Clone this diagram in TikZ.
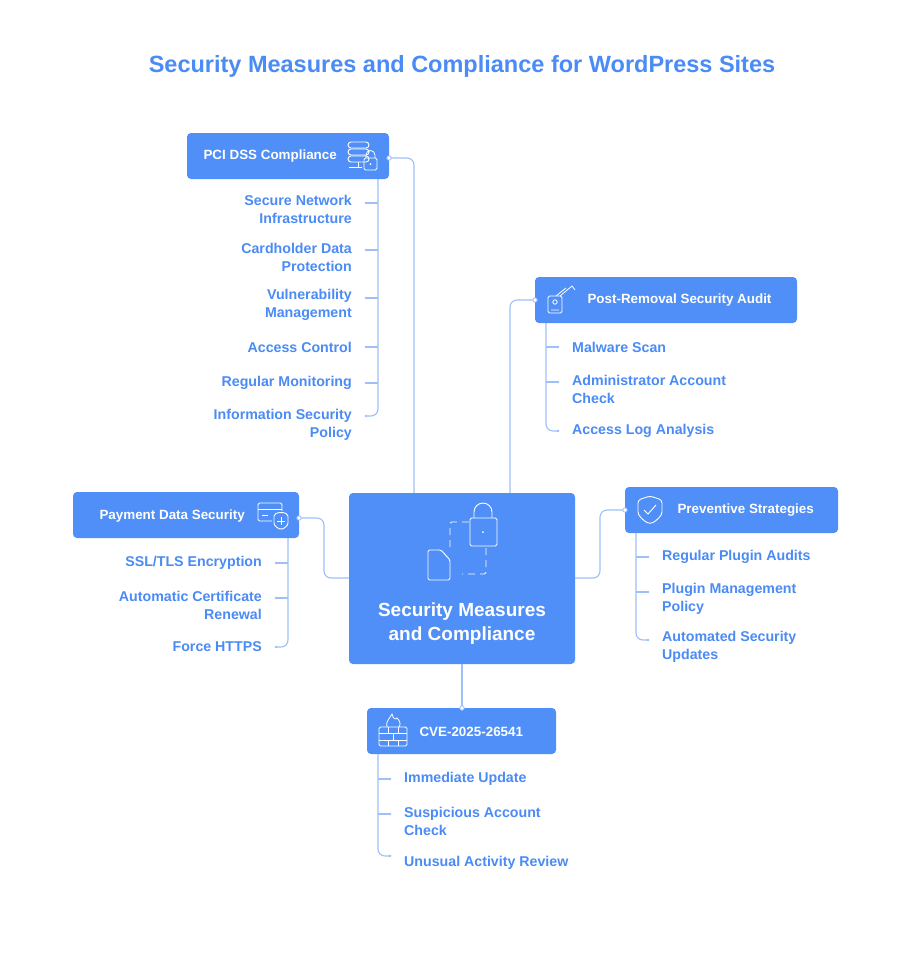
\documentclass[tikz,border=0pt]{standalone}
\usepackage{fontspec}
\setmainfont{Liberation Sans}
\usetikzlibrary{calc}
\definecolor{bx}{HTML}{4F8FF7}
\definecolor{tx}{HTML}{4A8BF5}
\definecolor{ln}{HTML}{9EC0F7}
\begin{document}
\begin{tikzpicture}[x=1pt,y=-1pt,
 box/.style={fill=bx,rounded corners=4,inner sep=0},
 btxt/.style={text=white,font=\bfseries\fontsize{13.4}{16}\selectfont},
 itr/.style={anchor=east,align=right,text=tx,font=\bfseries\fontsize{14.2}{18}\selectfont,inner sep=0},
 itl/.style={anchor=west,align=left,text=tx,font=\bfseries\fontsize{14.2}{18}\selectfont,inner sep=0},
 conn/.style={draw=ln,line width=1.1pt,rounded corners=7},
 tick/.style={draw=ln,line width=1.1pt},
 ic/.style={draw=white,line width=0.9pt,rounded corners=1.5}]
\useasboundingbox (0,0) rectangle (924,954);
\fill[white] (0,0) rectangle (924,954);
\node[text=tx,font=\bfseries\fontsize{23.5}{28}\selectfont] (title) at (462,66) {Security Measures and Compliance for WordPress Sites};

% center
\path[box] (349,493) rectangle (575,664);
\coordinate (C) at (462,578);
\node[text=white,align=center,font=\bfseries\fontsize{19}{24}\selectfont] (ct) at (462,624) {Security Measures\\and Compliance};
\draw[ic,dash pattern=on 7pt off 5pt] (450,547) -- (450,522) -- (470,522);
\draw[ic,dash pattern=on 7pt off 5pt] (486,548) -- (486,574) -- (462,574);
\draw[ic] (470,518) rectangle (497,546);
\draw[white,line width=0.9pt] (474,518) -- (474,512) arc (180:360:9) -- (492,518);
\fill[white] (483,532) circle (1);
\draw[ic] (428,550) -- (441,550) -- (450,560) -- (450,580) -- (428,580) -- cycle;

% PCI
\path[box] (187,133) rectangle (389,179);
\node[btxt,anchor=west] (pci) at (200,156) {PCI DSS Compliance};
\foreach \yy in {142,149,156}{\draw[ic,rounded corners=3] (348,\yy) rectangle (369,\yy+6);}
\draw[white,line width=0.8pt] (358,162) -- (358,167) (349,167)--(362,167);
\draw[ic] (364,158) rectangle (377,170); \draw[white,line width=0.8pt] (366,158) -- (366,155) arc (180:360:4.5) -- (375,158);
\fill[white] (370.5,164) circle (1);
\draw[conn] (389,158) -- (414,158) -- (414,493);
\fill[white] (389,158) circle (2.2); \draw[ln,line width=0.8pt] (389,158) circle (2.2);
\node[itr] (p1) at (352,209) {Secure Network\\Infrastructure};
\node[itr] (p2) at (352,257) {Cardholder Data\\Protection};
\node[itr] (p3) at (352,305) {Vulnerability\\Management};
\node[itr] (p4) at (352,347) {Access Control};
\node[itr] (p5) at (352,383) {Regular Monitoring};
\node[itr] (p6) at (352,425) {Information Security\\Policy};
\draw[conn] (378,179) -- (378,416) -- (366,416);
\foreach \yy in {203,250,298,347,383}{\draw[tick] (366,\yy) -- (378,\yy); \fill[ln] (366,\yy) circle (1.4);}
\fill[ln] (366,416) circle (1.4);

% Post-removal
\path[box] (535,277) rectangle (797,323);
\node[btxt,anchor=west] (pr) at (584,300) {Post-Removal Security Audit};
\draw[ic] (548,296) rectangle (562,313);
\draw[white,line width=0.8pt] (555,302) circle (2.2) (551,310) -- (559,310);
\draw[white,line width=0.8pt] (556,296) -- (566,288) (560,296) -- (572,286) -- (575,290);
\draw[conn] (510,493) -- (510,300) -- (535,300);
\fill[white] (535,300) circle (2.2); \draw[ln,line width=0.8pt] (535,300) circle (2.2);
\node[itl] (r1) at (572,347) {Malware Scan};
\node[itl] (r2) at (572,389) {Administrator Account\\Check};
\node[itl] (r3) at (572,431) {Access Log Analysis};
\draw[conn] (546,323) -- (546,431) -- (558,431);
\foreach \yy in {347,382}{\draw[tick] (546,\yy) -- (558,\yy); \fill[ln] (558,\yy) circle (1.4);}
\fill[ln] (558,431) circle (1.4);

% Payment
\path[box] (73,492) rectangle (299,538);
\node[btxt,anchor=west] (pay) at (96,516) {Payment Data Security};
\draw[ic] (258,503) rectangle (282,521);
\draw[white,line width=0.8pt] (258,509) -- (282,509) (262,515) -- (268,515);
\fill[bx] (272,511) rectangle (290,533);
\draw[ic,rounded corners=2] (274,514) -- (281,512) -- (288,514) -- (288,521) .. controls (288,526) and (284,528) .. (281,530) .. controls (278,528) and (274,526) .. (274,521) -- cycle;
\draw[white,line width=0.8pt] (281,517) -- (281,525) (277,521) -- (285,521);
\draw[conn] (299,518) -- (324,518) -- (324,578) -- (349,578);
\fill[white] (299,518) circle (2.2); \draw[ln,line width=0.8pt] (299,518) circle (2.2);
\node[itr] (y1) at (262,563) {SSL/TLS Encryption};
\node[itr] (y2) at (262,605) {Automatic Certificate\\Renewal};
\node[itr] (y3) at (262,647) {Force HTTPS};
\draw[conn] (288,538) -- (288,647) -- (276,647);
\foreach \yy in {563,598}{\draw[tick] (276,\yy) -- (288,\yy); \fill[ln] (276,\yy) circle (1.4);}
\fill[ln] (276,647) circle (1.4);

% Preventive
\path[box] (625,487) rectangle (838,533);
\node[btxt,anchor=west] (pv) at (674,510) {Preventive Strategies};
\draw[ic,rounded corners=3] (638,500) -- (650,496) -- (662,500) -- (662,509) .. controls (662,516) and (656,521) .. (650,524) .. controls (644,521) and (638,516) .. (638,509) -- cycle;
\draw[white,line width=0.9pt] (644,510) -- (648,514) -- (656,505);
\draw[conn] (575,578) -- (600,578) -- (600,510) -- (625,510);
\fill[white] (625,510) circle (2.2); \draw[ln,line width=0.8pt] (625,510) circle (2.2);
\node[itl] (v1) at (662,557) {Regular Plugin Audits};
\node[itl] (v2) at (662,599) {Plugin Management\\Policy};
\node[itl] (v3) at (662,647) {Automated Security\\Updates};
\draw[conn] (636,533) -- (636,640) -- (648,640);
\foreach \yy in {557,592}{\draw[tick] (636,\yy) -- (648,\yy); \fill[ln] (648,\yy) circle (1.4);}
\fill[ln] (648,640) circle (1.4);

% CVE
\path[box] (367,708) rectangle (556,754);
\node[btxt,anchor=west] (cve) at (416,732) {CVE-2025-26541};
\draw[ic] (379,727) rectangle (407,746);
\draw[white,line width=0.7pt] (379,733) -- (407,733) (379,740) -- (407,740) (388,727) -- (388,733) (398,727) -- (398,733) (393,733) -- (393,740) (388,740) -- (388,746) (398,740) -- (398,746);
\draw[white,line width=0.8pt] (387,727) .. controls (385,722) and (390,718) .. (392,714) .. controls (393,719) and (396,720) .. (397,718) .. controls (400,721) and (401,724) .. (399,727);
\draw[conn] (462,664) -- (462,708);
\fill[white] (462,708) circle (2.2); \draw[ln,line width=0.8pt] (462,708) circle (2.2);
\node[itl] (c1) at (404,779) {Immediate Update};
\node[itl] (c2) at (404,821) {Suspicious Account\\Check};
\node[itl] (c3) at (404,863) {Unusual Activity Review};
\draw[conn] (378,754) -- (378,856) -- (390,856);
\foreach \yy in {779,814}{\draw[tick] (378,\yy) -- (390,\yy); \fill[ln] (390,\yy) circle (1.4);}
\fill[ln] (390,856) circle (1.4);
\end{tikzpicture}
\end{document}
